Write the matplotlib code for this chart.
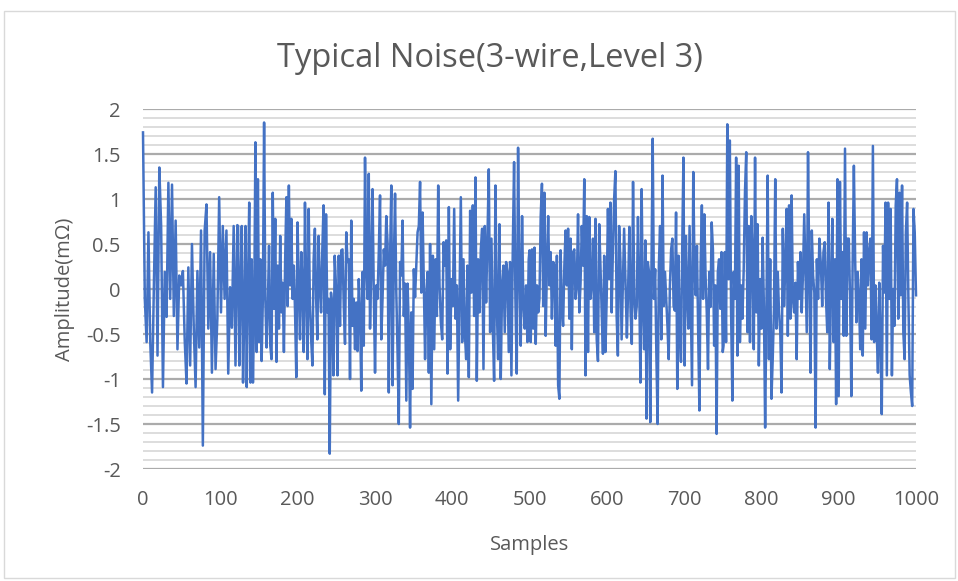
import numpy as np
import matplotlib
matplotlib.use("Agg")
import matplotlib.pyplot as plt
from matplotlib.patches import Rectangle

plt.rcParams['font.family'] = ['Open Sans', 'DejaVu Sans']
plt.rcParams['axes.unicode_minus'] = False

title = "Typical Noise(3-wire,Level 3)"
x_label = "Samples"
y_label = "Amplitude(mΩ)"
x_ticks = [0, 100, 200, 300, 400, 500, 600, 700, 800, 900, 1000]
y_ticks = [-2, -1.5, -1, -0.5, 0, 0.5, 1, 1.5, 2]
y_tick_labels = ["-2", "-1.5", "-1", "-0.5", "0", "0.5", "1", "1.5", "2"]

# sample ranges covered by each segment of read-off values
seg_ranges = [(0, 122), (123, 248), (250, 373), (375, 499),
              (500, 624), (626, 750), (751, 875), (877, 1000)]

seg1 = [1.74, -0.11, -0.59, 0.63, -0.59, -1.15, 0.04, 1.13, -0.74, 1.35, 0.70, -1.09, 0.19,
        -0.31, 1.18, -0.11, 1.16, -0.30, 0.76, -0.67, 0.15, 0.04, 0.20, -0.57, -1.05, 0.24,
        -0.85, 0.50, -0.44, -1.09, 0.20, -0.65, 0.65, -1.74, 0.65, 0.94, -0.44, 0.41, -0.93,
        0.39, -0.89, -0.33, 1.02, -0.26, 0.70, -0.11, 0.65, -0.94, 0.02, -0.43, 0.70, -0.85, 0.71]
seg2 = [0.70, -0.85, 0.04, 0.70, -1.04, -0.30, 0.70, -1.09, 0.04, 0.96, -1.04, 0.33, -1.04,
        -0.22, 1.63, -0.70, 1.22, -0.59, 0.33, -0.80, -0.11, 1.85, -0.11, -0.65, -0.19, 0.48,
        -0.63, -0.78, 1.07, -0.22, 0.78, -0.81, 0.26, -0.44, 0.59, -0.26, 0.07, -0.70, 0.33,
        1.02, -0.19, 1.15, 0.04, 0.78, -0.11, 0.26, -0.26, -0.98, 0.74, 0.04, -0.56, 0.41,
        0.04, -0.70, 0.96, 0.00, -0.78, 0.89, -0.19, -0.56, -0.85, 0.33, 0.67, -0.11, -0.56,
        0.59, 0.04, -0.26, 0.44, 0.93, -1.17, 0.83, -0.26, -0.11, -1.83, -0.04, -0.19, -0.96, 0.37]
seg3 = [-0.04, -0.96, 0.37, -0.41, 0.43, 0.44, -0.19, -0.61, 0.63, 0.30, 0.33, -1.00, 0.76,
        -0.41, -0.11, -0.67, -0.15, -0.69, 0.11, -0.26, -1.13, 0.19, -0.63, 1.46, 0.26, -0.11,
        1.28, -0.44, 0.22, 1.11, -0.04, -0.93, 0.04, -0.11, 0.41, 1.04, -0.56, -0.11, 0.44,
        0.26, 0.81, 0.52, -1.15, 0.33, 1.15, -1.07, 0.26, 1.06, -0.04, -0.70, -1.50, 0.30,
        0.15, 0.76, -0.30, 0.06, -1.24, 0.06, -0.44, -1.54, -0.26, -1.11, 0.22, -0.09, 0.26,
        0.63, 0.70, 1.19, -0.04, 0.85, 0.07, -0.78, -0.07, 0.19, -0.93, 0.50, -1.28]
seg4 = [0.37, -0.67, 0.33, -0.30, 1.15, 0.04, -0.37, -0.56, 0.52, 0.26, 0.54, -0.94, 0.91,
        -0.67, 0.11, -0.19, 0.89, -0.33, 0.04, -1.24, -0.11, 1.02, -0.59, 0.33, -0.48, -0.78,
        0.26, -0.98, 0.87, -0.04, 0.93, -0.30, 1.24, -1.02, 0.33, -0.26, 0.44, 0.67, -0.89,
        0.70, -0.15, 0.56, 1.33, -0.48, 0.56, -0.41, -1.02, 1.15, -0.19, -0.78, 0.72, -1.00,
        0.04, 0.26, -0.48, 0.30, 0.19, -0.70, 0.30, -0.96, 0.41, 1.41, -0.11, -0.94, 1.57,
        0.19, -0.63, 0.81, -0.19, -0.44, 0.04, -0.59, 0.33]
seg5 = [0.43, -0.59, 0.44, -0.44, 0.46, -0.61, 0.04, -0.26, -0.11, 0.81, 1.17, -0.19, 1.07,
        -0.52, 0.26, 0.81, 0.04, 0.41, -0.33, 0.30, 0.26, -0.63, 0.37, -1.07, -1.22, 0.43,
        -0.22, -0.41, 0.26, 0.65, 0.04, 0.67, -0.33, 0.56, -0.67, 0.41, 0.44, -0.11, 0.04,
        0.83, -0.26, 0.06, 0.70, 0.26, 1.22, -0.96, 0.81, -0.70, 0.80, -0.11, 0.07, 0.56,
        -0.48, 0.78, -0.56, -0.80, 0.72, 0.26, -0.26, -0.72, 0.37, -0.70, -0.11, 0.89, 0.11,
        0.96, -0.26, 0.44, 1.00, 1.31, -0.30, -0.74, 0.70, 0.33, -0.56, 0.04, 0.67, 0.11]
seg6 = [-0.54, 0.00, 0.69, -0.26, -0.61, 1.19, -0.11, -0.33, -0.19, 0.80, 0.06, -1.04, 1.11,
        -0.19, -0.67, 0.54, -1.44, 0.30, 0.19, -1.48, 0.26, 1.67, -0.11, 0.22, -0.74, -1.50,
        0.26, 0.70, -0.56, 1.26, -0.19, 0.19, -0.11, -0.41, -0.78, 0.04, 0.44, 0.56, -0.19,
        -0.24, 0.85, -1.11, 0.37, -0.48, -0.81, 0.44, 1.46, -0.85, 0.59, -0.04, -0.44, 0.70,
        -0.19, -1.07, 1.30, 0.26, -0.07, 0.48, -0.48, -1.35, 0.26, 0.93, -0.11, 0.83, 0.15,
        -0.26, -0.89, 0.19, -0.20, 0.74, 0.44, -0.63, 0.04, -1.61, 0.19, 0.33, -0.22, 0.41, -0.70]
seg7 = [-0.63, 0.41, -0.59, 1.83, 0.11, 1.65, -0.26, -1.24, 0.19, -0.11, 1.46, -0.74, 1.37,
        -0.59, 0.04, -0.33, 0.22, 1.07, 1.52, -0.48, 0.70, -0.59, 0.81, 0.37, -0.67, 1.46,
        -0.26, 0.72, -0.85, 0.11, -0.44, 0.57, -0.19, -1.54, -0.26, 1.26, -0.78, 0.33, -1.22,
        -0.78, -0.22, 1.22, -0.44, 0.19, -0.26, -0.48, -1.15, 0.67, -0.19, 0.26, 0.89, -0.52,
        0.93, -0.33, 1.04, -0.11, -0.26, 0.07, -0.78, 0.30, -0.11, 0.41, -0.26, 0.17, 0.83,
        0.19, -0.48, 1.52, 0.19, -0.93, 0.65, 0.15, -0.04, -1.54, 0.33, -0.11, 0.56]
seg8 = [0.26, -0.19, 0.41, 0.52, -0.11, -0.48, 0.96, -0.89, 0.04, 0.78, -0.59, 0.33, -1.28,
        1.22, -1.19, 1.19, -0.11, 0.41, -0.52, 1.56, -0.52, 0.56, 0.56, -0.11, -1.19, 0.26,
        1.37, 0.33, -0.37, 0.19, -0.11, -0.67, 0.33, -0.74, 0.63, -0.44, 0.63, 0.04, 0.41,
        0.56, -0.56, 1.59, -0.59, 0.04, -0.48, -0.93, 0.07, -0.59, -1.39, 0.48, -0.04, 0.96,
        -0.96, 0.96, -0.11, 0.89, -0.96, 0.00, -0.41, 0.93, 1.22, -0.33, 1.07, -0.07, 1.15,
        -0.48, -0.78, 0.63, 0.96, -0.11, -0.96, -1.15, -1.30, 0.89, 0.63, -0.07]

segments = [seg1, seg2, seg3, seg4, seg5, seg6, seg7, seg8]
samples = np.concatenate([np.linspace(a, b, len(s)) for (a, b), s in zip(seg_ranges, segments)])
amplitude = np.concatenate([np.array(s) for s in segments])

fig = plt.figure(figsize=(9.58, 5.81), dpi=100)
fig.patches.append(Rectangle((4 / 958, 3 / 581), 951 / 958, 567 / 581, transform=fig.transFigure,
                             fill=False, edgecolor='#d9d9d9', linewidth=1.0))
ax = fig.add_axes([143 / 958, 1 - 469 / 581, (916 - 143) / 958, (469 - 109) / 581])

ax.set_xlim(0, 1000)
ax.set_ylim(-2, 2)
ax.set_yticks(np.arange(-2, 2.0001, 0.1), minor=True)
ax.set_yticks(y_ticks)
ax.set_yticklabels(y_tick_labels)
ax.set_xticks(x_ticks)
ax.grid(axis='y', which='minor', color='#dadada', linewidth=1.3)
ax.grid(axis='y', which='major', color='#ababab', linewidth=1.6)
ax.set_axisbelow(True)
for sp in ax.spines.values():
    sp.set_visible(False)
ax.tick_params(axis='both', which='both', length=0, colors='#595959', labelsize=14.5)
ax.tick_params(axis='x', pad=15)
ax.tick_params(axis='y', pad=16)

ax.plot(samples, amplitude, color='#4472C4', linewidth=1.8, clip_on=False)

ax.set_xlabel(x_label, fontsize=14.5, color='#595959', labelpad=18)
ax.set_ylabel(y_label, fontsize=14.5, color='#595959', labelpad=8)
fig.text(490 / 958, 1 - 67 / 581, title, fontsize=23.5, color='#595959', ha='center', va='baseline')

fig.savefig("out.png", dpi=100)
